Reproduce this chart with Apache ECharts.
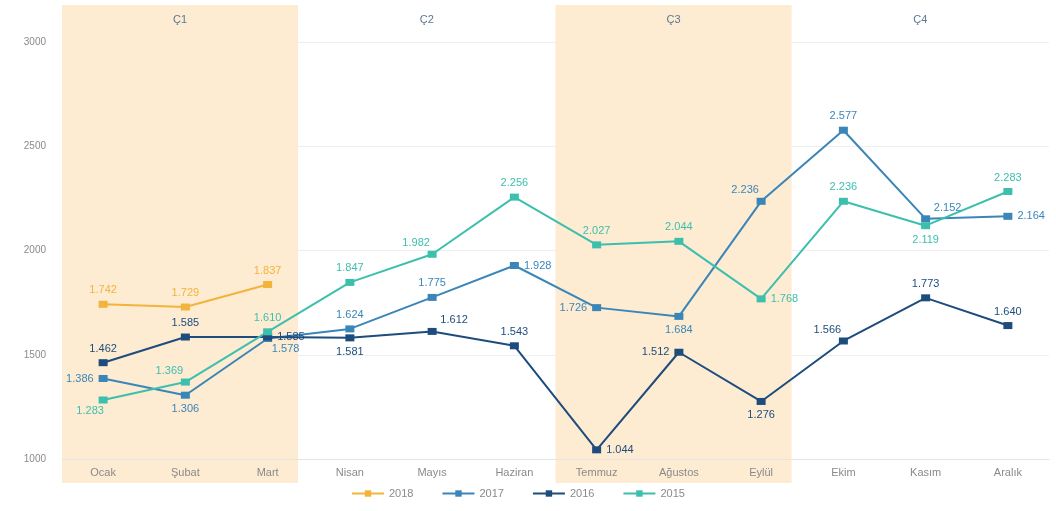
<!DOCTYPE html>
<html>
<head>
<meta charset="utf-8">
<script src="https://cdn.jsdelivr.net/npm/echarts@6/dist/echarts.min.js"></script>
<style>
  html, body { margin: 0; padding: 0; background: #fff; }
  #chart { width: 1056px; height: 511px; }
</style>
</head>
<body>
<div id="chart"></div>
<script>
// Aylık değerler, yıllara göre
const months = ['Ocak', 'Şubat', 'Mart', 'Nisan', 'Mayıs', 'Haziran', 'Temmuz', 'Ağustos', 'Eylül', 'Ekim', 'Kasım', 'Aralık'];
const quarters = ['Ç1', 'Ç2', 'Ç3', 'Ç4'];
const years = ['2018', '2017', '2016', '2015'];

const values2018 = [1742, 1729, 1837];
const values2017 = [1386, 1306, 1578, 1624, 1775, 1928, 1726, 1684, 2236, 2577, 2152, 2164];
const values2016 = [1462, 1585, 1585, 1581, 1612, 1543, 1044, 1512, 1276, 1566, 1773, 1640];
const values2015 = [1283, 1369, 1610, 1847, 1982, 2256, 2027, 2044, 1768, 2236, 2119, 2283];

const yTicks = { min: 1000, max: 3000, interval: 500 };

// label placement per point, chosen so the numbers stay clear of the lines
const pos2018 = ['top', 'top', 'top'];
const pos2017 = ['left', 'bottom', 'bottomRight', 'top', 'top', 'right', 'left', 'bottom', 'topLeft', 'top', 'topRight', 'right'];
const pos2016 = ['top', 'top', 'right', 'bottom', 'topRight', 'top', 'right', 'left', 'bottom', 'topLeft', 'top', 'top'];
const pos2015 = ['bottomLeft', 'topLeft', 'top', 'top', 'topLeft', 'top', 'top', 'top', 'right', 'top', 'bottom', 'top'];

const colors = { '2018': '#f2b43a', '2017': '#3a86b9', '2016': '#1d4c7d', '2015': '#3dbfae' };

const fmt = v => (v / 1000).toFixed(3);

const placement = {
  top: { position: 'top', offset: [0, 0] },
  bottom: { position: 'bottom', offset: [0, 0] },
  left: { position: 'left', offset: [0, 0] },
  right: { position: 'right', offset: [0, 0] },
  topLeft: { position: 'top', offset: [-16, 3] },
  topRight: { position: 'top', offset: [22, 3] },
  bottomLeft: { position: 'bottom', offset: [-13, -3] },
  bottomRight: { position: 'bottom', offset: [18, -4] }
};

function pointData(values, positions) {
  return values.map((v, i) => {
    const p = placement[positions[i]];
    return { value: v, label: { position: p.position, offset: p.offset } };
  });
}

function lineSeries(name, values, positions) {
  return {
    name: name,
    type: 'line',
    xAxisIndex: 0,
    yAxisIndex: 0,
    z: 3,
    data: pointData(values, positions),
    symbol: 'rect',
    symbolSize: [9, 7],
    lineStyle: { width: 2, color: colors[name] },
    itemStyle: { color: colors[name] },
    label: {
      show: true,
      distance: 5,
      color: colors[name],
      fontSize: 11,
      fontFamily: 'Liberation Sans, Arial, sans-serif',
      formatter: p => fmt(p.value)
    },
    emphasis: { disabled: true },
    animation: false
  };
}

// quarter bands: Ç1 and Ç3 shaded, Ç2 and Ç4 only labelled
const bandWidth = 2.87;
const bandData = quarters.map((q, i) => [
  {
    name: q,
    xAxis: i * 3,
    itemStyle: { color: i % 2 === 0 ? '#fdebd2' : 'rgba(0,0,0,0)' }
  },
  { xAxis: i * 3 + bandWidth }
]);

const chart = echarts.init(document.getElementById('chart'), null, { renderer: 'canvas' });

chart.setOption({
  backgroundColor: '#ffffff',
  animation: false,
  textStyle: { fontFamily: 'Liberation Sans, Arial, sans-serif' },
  grid: [
    { left: 62, right: 7, top: 42, bottom: 52 },
    { left: 62, right: 7, top: 5, bottom: 28 }
  ],
  xAxis: [
    {
      type: 'category',
      gridIndex: 0,
      data: months,
      boundaryGap: true,
      z: 2,
      axisLine: { show: true, lineStyle: { color: '#e4e4e4', width: 1 } },
      axisTick: { show: false },
      axisLabel: { color: '#8a8a8a', fontSize: 11, margin: 8 }
    },
    {
      type: 'value',
      gridIndex: 1,
      min: 0,
      max: 12,
      show: false
    }
  ],
  yAxis: [
    {
      type: 'value',
      gridIndex: 0,
      min: yTicks.min,
      max: yTicks.max,
      interval: yTicks.interval,
      z: 0,
      axisLine: { show: false },
      axisTick: { show: false },
      axisLabel: { color: '#8a8a8a', fontSize: 10, margin: 16, formatter: v => String(v) },
      splitLine: { show: true, lineStyle: { color: '#efefef', width: 1 } }
    },
    {
      type: 'value',
      gridIndex: 1,
      min: 0,
      max: 1,
      show: false
    }
  ],
  legend: {
    data: years,
    left: 346,
    bottom: 7,
    itemWidth: 32,
    itemHeight: 8,
    itemGap: 28,
    textStyle: { color: '#8a8a8a', fontSize: 11 }
  },
  series: [
    {
      name: 'bands',
      type: 'line',
      xAxisIndex: 1,
      yAxisIndex: 1,
      z: 1,
      data: [],
      silent: true,
      markArea: {
        silent: true,
        label: {
          show: true,
          position: 'insideTop',
          distance: 9,
          color: '#5b7896',
          fontSize: 11
        },
        data: bandData
      },
      animation: false
    },
    lineSeries('2018', values2018, pos2018),
    lineSeries('2017', values2017, pos2017),
    lineSeries('2016', values2016, pos2016),
    lineSeries('2015', values2015, pos2015)
  ]
});
</script>
</body>
</html>
